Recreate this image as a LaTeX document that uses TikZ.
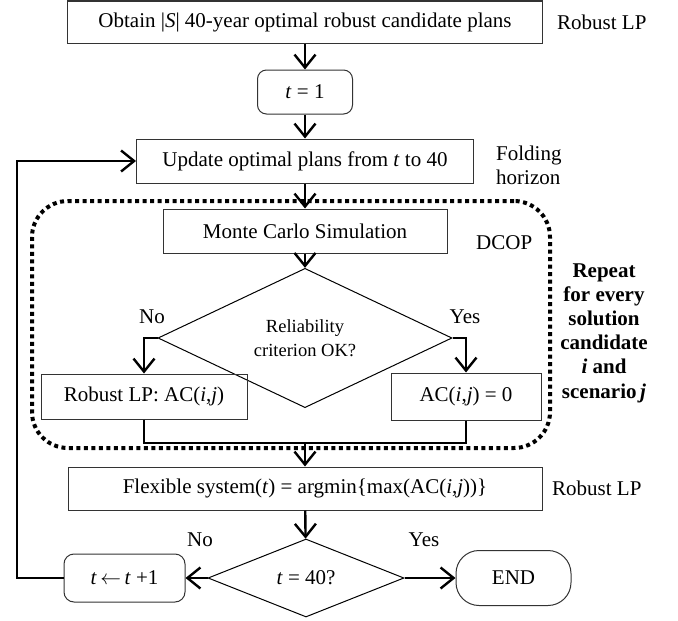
\documentclass[tikz,border=0pt]{standalone}
\usepackage{fontspec}
\setmainfont{Liberation Serif}
\usetikzlibrary{arrows.meta,shapes.geometric}

\tikzset{
  base/.style={font=\fontsize{21}{24}\selectfont},
  box/.style={base, draw=black!80, line width=1pt, inner sep=0pt},
  rbox/.style={box, rounded corners=9pt},
  dia/.style={base, draw=black, line width=1pt, shape=diamond, inner sep=0pt, align=center},
  conn/.style={line width=2.4pt, line join=miter},
  arr/.style={conn, -{Straight Barb[length=13pt,width=21pt]}},
  frame/.style={draw=black, line width=4pt, dash pattern=on 4pt off 3.5pt, rounded corners=36pt, inner sep=0pt},
  lbl/.style={base, inner sep=0pt},
  note/.style={base, inner sep=0pt, align=center, font=\fontsize{21}{24.2}\selectfont\bfseries},
}

\begin{document}
\begin{tikzpicture}[x=1pt, y=-1pt]
  \useasboundingbox (0,0) rectangle (678,621);

  % dotted frame around the inner simulation loop
  \node[frame, minimum width=518pt, minimum height=247pt] (dcop) at (291,324.5) {};

  % main column of steps
  \node[box, minimum width=475pt, minimum height=42pt] (obtain) at (305,22)
    {Obtain |\textit{S}| 40-year optimal robust candidate plans};
  \node[rbox, minimum width=95pt, minimum height=44pt] (t1) at (305,92) {\textit{t} = 1};
  \node[box, minimum width=337pt, minimum height=44pt] (upd) at (305,161)
    {Update optimal plans from \textit{t} to 40};
  \node[box, minimum width=284pt, minimum height=44pt] (mc) at (305,231) {Monte Carlo Simulation};
  \node[dia, minimum width=294pt, minimum height=114pt] (rel) at (305,338)
    {\fontsize{18.5}{20}\selectfont Reliability\\[0pt]\fontsize{18.5}{20}\selectfont criterion OK?};
  \node[box, minimum width=206pt, minimum height=45pt] (lp) at (144,396.5)
    {Robust LP: AC(\textit{i},\textit{j})};
  \node[box, minimum width=150pt, minimum height=47pt] (ac0) at (466,396.5)
    {AC(\textit{i},\textit{j}) = 0};
  \coordinate (merge) at (305,443);
  \node[box, minimum width=474pt, minimum height=43pt] (flex) at (305,488.5)
    {Flexible system(\textit{t}) = argmin\{max(AC(\textit{i},\textit{j}))\}};
  \node[dia, minimum width=196pt, minimum height=78pt] (t40) at (306,578) {\textit{t} = 40?};
  \node[rbox, rounded corners=10pt, minimum width=121pt, minimum height=48pt] (tinc) at (124.5,578)
    {\textit{t}\,$\leftarrow$\,\textit{t} +1};
  \node[rbox, rounded corners=23pt, minimum width=115pt, minimum height=55pt] (end) at (513.5,578) {END};
  \coordinate (lt) at (17,161);

  % side labels
  \node[lbl, anchor=west] (rlp1) at (557,22) {Robust LP};
  \node[lbl, anchor=west, align=left] (fold) at (496,165) {Folding\\horizon};
  \node[lbl, anchor=west] (dcoplbl) at (476,243) {DCOP};
  \node[note] (rep) at (604,333) {Repeat\\for every\\solution\\candidate\\\textit{i} and\\scenario\,\textit{j}};
  \node[lbl] (no1) at (152,317) {No};
  \node[lbl] (yes1) at (465,317) {Yes};
  \node[lbl, anchor=west] (rlp2) at (552,488) {Robust LP};
  \node[lbl] (no2) at (200,540) {No};
  \node[lbl] (yes2) at (424,540) {Yes};

  % connectors
  \draw[arr] (obtain) -- (t1);
  \draw[arr] (t1) -- (upd);
  \draw[arr] (upd) -- (mc);
  \draw[arr] (mc) -- (rel);
  \draw[arr] (rel.west) -| (lp.north);
  \draw[arr] (rel.east) -| (ac0.north);
  \draw[conn] (lp.south) |- (merge);
  \draw[conn] (ac0.south) |- (merge);
  \draw[arr] (merge) -- (flex.north);
  \draw[arr] (flex) -- (t40);
  \draw[arr] (t40.west) -- (tinc.east);
  \draw[arr] (t40.east) -- (end.west);
  \draw[arr] (tinc.west) -| (lt) -- (upd.west);
\end{tikzpicture}
\end{document}
